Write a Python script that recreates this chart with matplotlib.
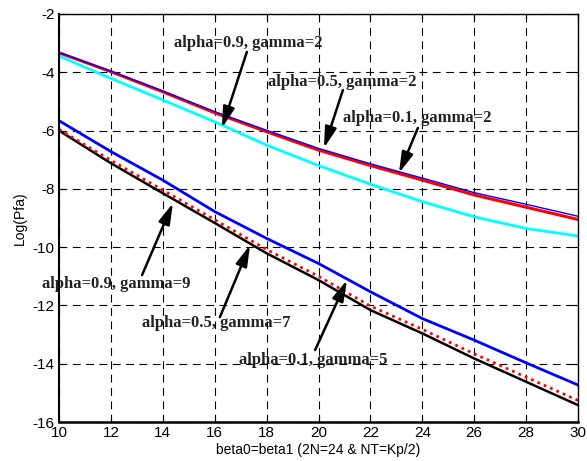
import numpy as np
import matplotlib
matplotlib.use("Agg")
import matplotlib.pyplot as plt

# beta0 = beta1 values
beta = [10, 12, 14, 16, 18, 20, 22, 24, 26, 28, 30]

# upper group (gamma=2)
red_g2 = [-3.33, -3.98, -4.67, -5.39, -6.04, -6.67, -7.20, -7.70, -8.21, -8.63, -9.05]
blue_g2 = [-3.32, -3.96, -4.64, -5.35, -5.99, -6.61, -7.14, -7.63, -8.13, -8.53, -8.94]
cyan_g2 = [-3.44, -4.21, -4.95, -5.70, -6.50, -7.20, -7.84, -8.44, -8.96, -9.36, -9.62]

# lower group
blue_low = [-5.66, -6.72, -7.70, -8.78, -9.70, -10.56, -11.53, -12.45, -13.19, -13.97, -14.73]
red_low = [-5.96, -7.02, -8.04, -9.06, -10.08, -11.00, -12.02, -12.82, -13.66, -14.46, -15.26]
black_low = [-6.00, -7.12, -8.15, -9.17, -10.21, -11.13, -12.16, -12.96, -13.82, -14.62, -15.42]

# annotations: text, text position (x, y), arrow head (x, y)
notes = [
    ("alpha=0.9, gamma=2", (17.3, -3.0), (16.28, -5.91)),
    ("alpha=0.5, gamma=2", (20.9, -4.32), (20.21, -6.60)),
    ("alpha=0.1, gamma=2", (23.8, -5.58), (23.10, -7.46)),
    ("alpha=0.9, gamma=9", (12.2, -11.26), (14.39, -8.49)),
    ("alpha=0.5, gamma=7", (16.05, -12.62), (17.36, -9.93)),
    ("alpha=0.1, gamma=5", (19.8, -13.86), (21.10, -11.13)),
]
tails = [(17.24, -3.30), (20.94, -4.61), (23.83, -5.91),
         (13.20, -10.96), (16.20, -12.40), (19.87, -13.53)]

plt.rcParams['font.family'] = ['Liberation Sans', 'DejaVu Sans']
plt.rcParams['axes.unicode_minus'] = False
fig = plt.figure(figsize=(5.87, 4.61), dpi=100)
ax = fig.add_axes([59/587, 1 - 422/461, (578-59)/587, (422-14)/461])

ax.plot(beta, red_g2, color='red', lw=2.2)
ax.plot(beta, blue_g2, color='blue', lw=1.0)
ax.plot(beta, cyan_g2, color='cyan', lw=2.0)
ax.plot(beta, black_low, color='black', lw=1.8)
ax.plot(beta, red_low, color='red', lw=2.0, ls=(0, (1, 1.5)))
ax.plot(beta, blue_low, color='blue', lw=2.0)

for (txt, pos, head), tail in zip(notes, tails):
    ax.annotate('', xy=head, xytext=tail,
                arrowprops=dict(arrowstyle='-|>,head_length=0.9,head_width=0.25',
                                color='black', lw=1.8,
                                mutation_scale=14, shrinkA=0, shrinkB=0))
    ax.text(pos[0], pos[1], txt, family='Liberation Serif', weight='bold',
            fontsize=12, ha='center', va='center', color='#222222')

ax.set_xlim(10, 30)
ax.set_ylim(-16, -2)
ax.set_xticks(range(10, 31, 2))
ax.set_yticks(range(-16, -1, 2))
ax.grid(True, color='black', ls=(0, (7, 5)), lw=0.8)
ax.tick_params(direction='in', length=4, labelsize=11, top=True, right=True, pad=3)
for s in ax.spines.values():
    s.set_linewidth(1.0)
ax.spines['bottom'].set_linewidth(1.8)
ax.spines['left'].set_linewidth(1.5)
ax.set_xlabel('beta0=beta1 (2N=24 & NT=Kp/2)', fontsize=10, labelpad=2)
ax.set_ylabel('Log(Pfa)', fontsize=10, labelpad=4)

fig.savefig('out.png', dpi=100)
